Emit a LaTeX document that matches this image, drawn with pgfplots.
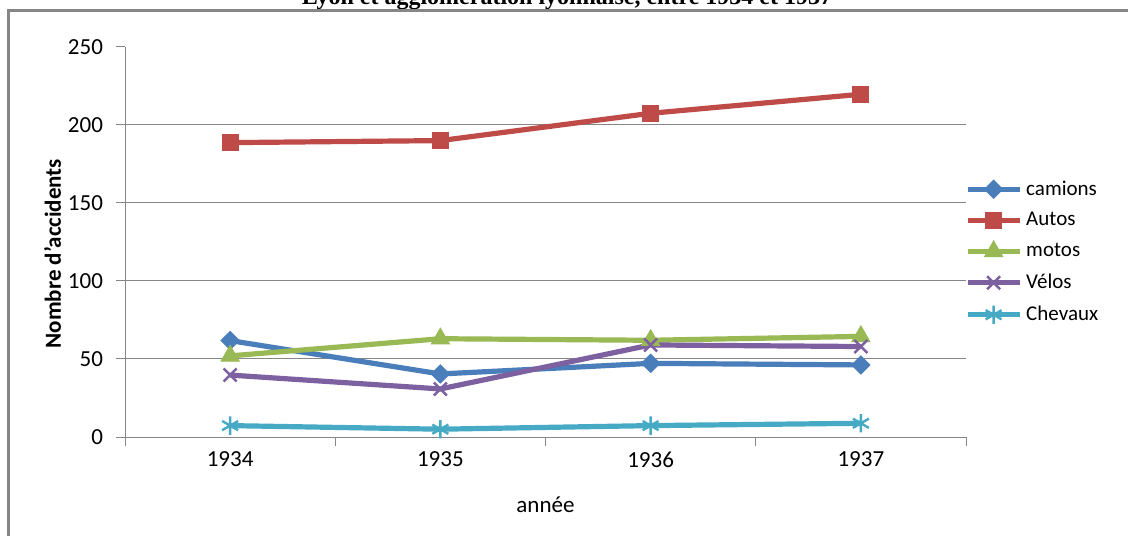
\documentclass[border=0pt]{standalone}
\usepackage{fontspec}
\setmainfont{Carlito}
\newfontfamily\titlefont{Liberation Serif}
\usepackage{pgfplots}
\pgfplotsset{compat=1.18}
\definecolor{cam}{HTML}{4A7EBB}
\definecolor{aut}{HTML}{BE4B48}
\definecolor{mot}{HTML}{98B954}
\definecolor{vel}{HTML}{7D60A0}
\definecolor{che}{HTML}{46AAC5}
\definecolor{axgray}{HTML}{868686}
\begin{document}
\begin{tikzpicture}[x=0.5pt,y=0.5pt]
\useasboundingbox (0,0) rectangle (1128,535);
\clip (0,0) rectangle (1128,535);
\fill[white] (0,0) rectangle (1128,535);
\node[font=\titlefont\bfseries\fontsize{12}{14}\selectfont, anchor=base, inner sep=0pt] at (567,530) {Lyon et agglomération lyonnaise, entre 1934 et 1937};
\draw[axgray, line width=1.5pt] (8.5,-5) -- (8.5,524.2) -- (1140,524.2);
\begin{axis}[
  at={(62.5pt,49pt)}, anchor=south west,
  scale only axis, width=420.5pt, height=195pt,
  xmin=-0.5, xmax=3.5, ymin=0, ymax=250,
  axis x line*=bottom, axis y line*=left,
  axis line style={axgray, line width=0.5pt, -},
  tick align=outside,
  major tick length=4.5pt,
  every tick/.style={axgray, line width=0.5pt},
  ytick={0,50,100,150,200},
  extra y ticks={250},
  extra y tick style={grid=none},
  ymajorgrids,
  grid style={axgray, line width=0.5pt},
  xtick={-0.5,0.5,1.5,2.5,3.5},
  xticklabels={},
  extra x ticks={0,1,2,3},
  extra x tick labels={1934,1935,1936,1937},
  extra x tick style={major tick length=0pt, grid=none},
  /pgf/number format/assume math mode=true,
  tick label style={font=\fontsize{11.5}{13}\selectfont},
  yticklabel style={anchor=east, xshift=-3pt},
  xticklabel style={anchor=north, yshift=-4pt},
  xlabel={année},
  ylabel={Nombre d'accidents},
  xlabel style={font=\fontsize{11.5}{13}\selectfont, at={(axis description cs:0.5,-0.174)}, anchor=center},
  ylabel style={font=\bfseries\fontsize{11.5}{13}\selectfont, at={(axis description cs:-0.086,0.47)}, anchor=center, rotate=0},
  legend style={at={(axis description cs:0.996,0.679)}, anchor=north west, draw=none, fill=none,
    font=\fontsize{10.5}{12}\selectfont, row sep=3.2pt, inner xsep=1pt},
  legend cell align=left,
  legend image code/.code={\draw[mark repeat=2,mark phase=2] plot coordinates {(0pt,0pt)(13pt,0pt)(26pt,0pt)};},
  every axis plot/.append style={line width=2.6pt},
]
\addplot[cam, mark=square*, mark size=3.2pt, mark options={rotate=45, solid, line width=0.5pt}] coordinates {(0,61.8) (1,40.4) (2,47.2) (3,46.2)};
\addlegendentry{camions}
\addplot[aut, mark=square*, mark size=4pt, mark options={solid, line width=0.5pt}] coordinates {(0,188.7) (1,190) (2,207.5) (3,219.7)};
\addlegendentry{Autos}
\addplot[mot, mark=triangle*, mark size=5.2pt, mark options={solid, line width=0.5pt}] coordinates {(0,52) (1,63) (2,62) (3,64.5)};
\addlegendentry{motos}
\addplot[vel, mark=x, mark size=4.6pt, mark options={solid, line width=1.2pt}] coordinates {(0,39.7) (1,30.8) (2,59) (3,58)};
\addlegendentry{Vélos}
\addplot[che, mark=asterisk, mark size=4.6pt, mark options={solid, line width=1.2pt}] coordinates {(0,7.3) (1,5) (2,7.3) (3,8.8)};
\addlegendentry{Chevaux}
\end{axis}
\end{tikzpicture}
\end{document}
